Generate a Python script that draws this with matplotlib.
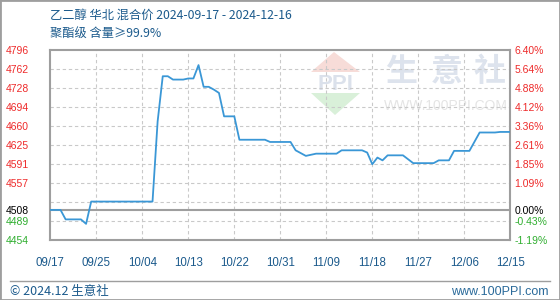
import matplotlib.pyplot as plt
from matplotlib.patches import Polygon, Rectangle
from matplotlib.lines import Line2D
import pandas as pd

plt.rcParams['font.family'] = ['Noto Sans CJK SC', 'DejaVu Sans']

# price breakpoints (2024)
dates = ['09-17', '09-19', '09-20', '09-23', '09-24', '09-25', '10-07', '10-08',
         '10-09', '10-10', '10-11', '10-13', '10-14', '10-15', '10-16', '10-17',
         '10-18', '10-19', '10-20', '10-21', '10-23', '10-24', '10-29', '10-30',
         '11-03', '11-04', '11-06', '11-08', '11-12', '11-13', '11-17', '11-18',
         '11-19', '11-20', '11-21', '11-22', '11-25', '11-27', '12-01', '12-02',
         '12-04', '12-05', '12-08', '12-10', '12-13', '12-14', '12-16']
prices = [4508, 4508, 4491, 4491, 4483, 4523, 4523, 4667,
          4748, 4748, 4742, 4742, 4744, 4744, 4768, 4729,
          4729, 4724, 4718, 4676, 4676, 4634, 4634, 4630,
          4630, 4615, 4605, 4609, 4609, 4615, 4615, 4611,
          4590, 4602, 4597, 4606, 4606, 4592, 4592, 4597,
          4597, 4614, 4614, 4647, 4647, 4648, 4648]

base = 4508
grid_levels = [4796, 4761.8, 4727.6, 4693.4, 4659.2, 4625, 4590.8, 4556.6, 4522.4, 4488.2, 4454]
left_labels = ['4796', '4762', '4728', '4694', '4660', '4625', '4591', '4557', '', '4489', '4454']
right_labels = ['6.40%', '5.64%', '4.88%', '4.12%', '3.36%', '2.61%', '1.85%', '1.09%', '', '-0.43%', '-1.19%']

x_ticks = ['09-17', '09-26', '10-05', '10-14', '10-23', '11-01', '11-10', '11-19', '11-28', '12-07', '12-16']
x_labels = ['09/17', '09/25', '10/04', '10/13', '10/22', '10/31', '11/09', '11/18', '11/27', '12/06', '12/15']

x = pd.to_datetime(['2024-' + d for d in dates])
xt = pd.to_datetime(['2024-' + d for d in x_ticks])

red = '#ee2a2a'
green = '#2fae2f'
blue_txt = '#1b5a8c'
grid_c = '#c9c9c9'
spine_c = '#9e9e9e'

fig = plt.figure(figsize=(5.6, 3.0), dpi=100)
ax = fig.add_axes([50.3 / 560, 0.2, 460 / 560, 190.5 / 300])
ax.patch.set_visible(False)

ax.set_xlim(xt[0], xt[-1])
ax.set_ylim(4454, 4796)

# watermark
ax.add_patch(Polygon([(311 / 560, 1 - 72 / 300), (360 / 560, 1 - 72 / 300), (334 / 560, 1 - 52 / 300)],
                     closed=True, color='#f7dcd8', transform=fig.transFigure, zorder=0.2, lw=0))
ax.add_patch(Polygon([(311 / 560, 1 - 93 / 300), (360 / 560, 1 - 93 / 300), (335 / 560, 1 - 115 / 300)],
                     closed=True, color='#d9f0d9', transform=fig.transFigure, zorder=0.2, lw=0))
ax.text(335 / 560, 1 - 84 / 300, 'PPI', transform=fig.transFigure, ha='center', va='center',
        fontsize=16, fontweight='bold', color='#dbe1eb', family='Liberation Sans', zorder=0.3)
for ch, cx in zip('生意社', [401, 447, 490]):
    ax.text(cx / 560, 1 - 72 / 300, ch, transform=fig.transFigure, ha='center', va='center',
            fontsize=23, fontweight='bold', color='#dde3ed', zorder=0.3)
ax.text(446 / 560, 1 - 106 / 300, 'WWW.100PPI.COM', transform=fig.transFigure, ha='center', va='center',
        fontsize=10, color='#e4e4e4', family='Liberation Sans', zorder=0.3)

# grid
dash = (0, (3, 2.5))
for v in grid_levels[1:-1]:
    ax.axhline(v, color=grid_c, lw=0.8, ls=dash, zorder=1)
for t in xt[1:-1]:
    ax.axvline(t, color=grid_c, lw=0.8, ls=dash, zorder=1)
ax.axhline(base, color=spine_c, lw=1.5, zorder=1.5)

ax.plot(x, prices, color='#3a97d6', lw=1.3, zorder=3)

for s in ax.spines.values():
    s.set_color(spine_c)
    s.set_linewidth(1.5)

ax.set_yticks(grid_levels + [base])
ax.set_yticklabels(left_labels + ['4508'])
ax.tick_params(axis='y', length=0, pad=15.5, labelsize=7.5)
for lab, v in zip(ax.get_yticklabels(), grid_levels + [base]):
    lab.set_family('Liberation Sans')
    lab.set_color('black' if v == base else (red if v > base else green))

ax.set_xticks(xt)
ax.set_xticklabels(x_labels)
ax.tick_params(axis='x', length=0, pad=12, labelsize=8.3, labelcolor=blue_txt)
for lab in ax.get_xticklabels():
    lab.set_family('Liberation Sans')

ax2 = ax.twinx()
ax2.set_ylim(ax.get_ylim())
ax2.set_yticks(grid_levels + [base])
ax2.set_yticklabels(right_labels + ['0.00%'])
ax2.tick_params(axis='y', length=0, pad=3, labelsize=7.5)
for lab, v in zip(ax2.get_yticklabels(), grid_levels + [base]):
    lab.set_family('Liberation Sans')
    lab.set_color('black' if v == base else (red if v > base else green))
for s in ax2.spines.values():
    s.set_visible(False)

# titles
fig.text(50 / 560, 1 - 15 / 300, '乙二醇 华北 混合价 2024-09-17 - 2024-12-16',
         fontsize=8.8, color=blue_txt, va='center', ha='left')
fig.text(50 / 560, 1 - 33 / 300, '聚酯级 含量≥99.9%',
         fontsize=8.8, color=blue_txt, va='center', ha='left')

# footer
fig.add_artist(Line2D([10 / 560, 550 / 560], [1 - 281 / 300] * 2, color=spine_c, lw=1))
fig.text(10 / 560, 1 - 292 / 300, '© 2024.12 生意社', fontsize=9, color=blue_txt, va='center', ha='left')
fig.text(549 / 560, 1 - 292 / 300, 'www.100PPI.com', fontsize=9, color='#2a6a9a', va='center', ha='right',
         family='Liberation Sans')
fig.add_artist(Rectangle((0, 0), 1, 1, fill=False, edgecolor=spine_c, lw=2, transform=fig.transFigure))

fig.savefig('out.png', dpi=100)
